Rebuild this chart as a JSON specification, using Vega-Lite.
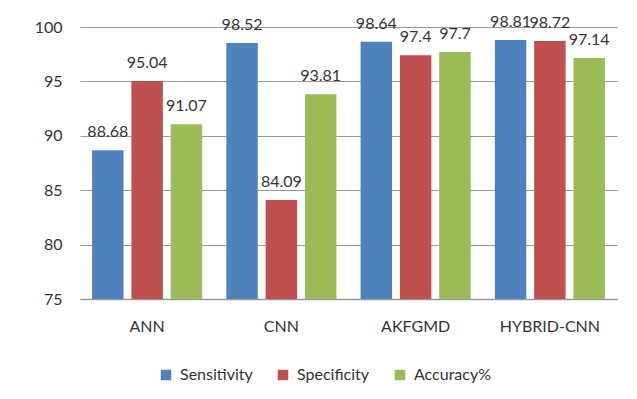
{
  "$schema": "https://vega.github.io/schema/vega-lite/v6.json",
  "autosize": {"type": "none"},
  "width": 537,
  "height": 272,
  "padding": {"left": 80, "top": 27, "right": 20, "bottom": 100},
  "background": "white",
  "config": {
    "font": "Lato",
    "view": {"stroke": null},
    "axis": {"labelFont": "Lato", "labelFontSize": 16, "labelColor": "#333333", "ticks": false, "domain": false, "title": null},
    "legend": {"labelFont": "Lato", "labelFontSize": 16, "labelColor": "#333333"}
  },
  "data": {
    "values": [
      {"model": "ANN", "metric": "Sensitivity", "value": 88.68},
      {"model": "ANN", "metric": "Specificity", "value": 95.04},
      {"model": "ANN", "metric": "Accuracy%", "value": 91.07},
      {"model": "CNN", "metric": "Sensitivity", "value": 98.52},
      {"model": "CNN", "metric": "Specificity", "value": 84.09},
      {"model": "CNN", "metric": "Accuracy%", "value": 93.81},
      {"model": "AKFGMD", "metric": "Sensitivity", "value": 98.64},
      {"model": "AKFGMD", "metric": "Specificity", "value": 97.4},
      {"model": "AKFGMD", "metric": "Accuracy%", "value": 97.7},
      {"model": "HYBRID-CNN", "metric": "Sensitivity", "value": 98.81},
      {"model": "HYBRID-CNN", "metric": "Specificity", "value": 98.72},
      {"model": "HYBRID-CNN", "metric": "Accuracy%", "value": 97.14}
    ]
  },
  "encoding": {
    "x": {
      "field": "model", "type": "nominal", "sort": null,
      "scale": {"paddingInner": 0.18, "paddingOuter": 0.09},
      "axis": {"labelAngle": 0, "domain": true, "domainColor": "#9a9a9a", "domainWidth": 1.5, "labelPadding": 19, "grid": false}
    },
    "xOffset": {
      "field": "metric", "type": "nominal", "sort": ["Sensitivity", "Specificity", "Accuracy%"],
      "scale": {"paddingInner": 0.2, "paddingOuter": 0}
    },
    "y": {
      "field": "value", "type": "quantitative",
      "scale": {"domain": [75, 100], "zero": false, "nice": false},
      "axis": {"values": [75, 80, 85, 90, 95, 100], "grid": true, "gridColor": "#9a9a9a", "gridWidth": 1, "labelPadding": 18}
    }
  },
  "layer": [
    {
      "mark": {"type": "bar", "clip": true},
      "encoding": {
        "y2": {"datum": 75},
        "color": {
          "field": "metric", "type": "nominal", "sort": ["Sensitivity", "Specificity", "Accuracy%"],
          "scale": {"domain": ["Sensitivity", "Specificity", "Accuracy%"], "range": ["#4F81BD", "#C0504D", "#9BBB59"]},
          "legend": {
            "title": null, "orient": "none", "direction": "horizontal",
            "legendX": 78, "legendY": 340,
            "symbolType": "square", "symbolSize": 110, "symbolStrokeWidth": 0,
            "labelOffset": 6, "columnPadding": 22
          }
        }
      }
    },
    {
      "mark": {"type": "text", "baseline": "bottom", "dy": -10, "fontSize": 16, "color": "#333333", "font": "Lato"},
      "encoding": {
        "text": {"field": "value", "type": "quantitative"}
      }
    }
  ]
}
